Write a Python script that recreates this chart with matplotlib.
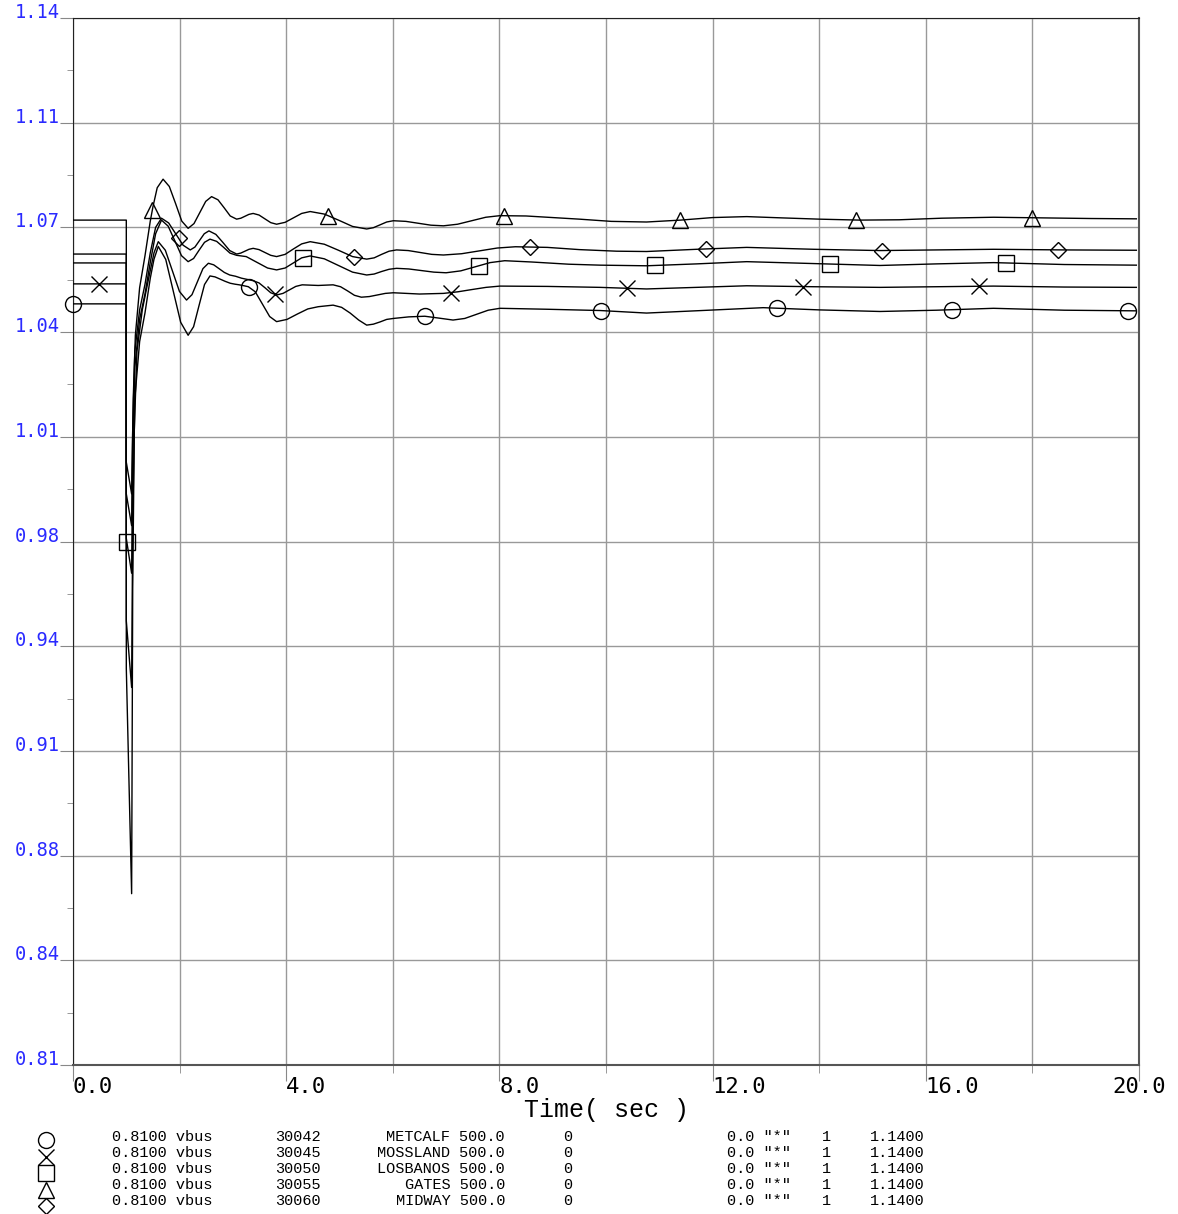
import numpy as np
import matplotlib
matplotlib.use("Agg")
import matplotlib.pyplot as plt

# ---- channel data ----
names = ['METCALF', 'MOSSLAND', 'LOSBANOS', 'GATES', 'MIDWAY']
bus_nums = ['30042', '30045', '30050', '30055', '30060']
markers = ['o', 'x', 's', '^', 'D']
marker_start = [0.0, 0.495, 1.01, 1.49, 1.98]
marker_step = 3.3

t_metcalf = [0, 1.0, 1.0, 1.1, 1.12, 1.16, 1.25, 1.35, 1.45, 1.52, 1.6, 1.74, 1.88, 2.02, 2.16,
             2.2625, 2.365, 2.4675, 2.57, 2.665, 2.76, 2.855, 2.95, 3.04, 3.12, 3.21, 3.29, 3.42,
             3.555, 3.69, 3.82, 4.015, 4.21, 4.405, 4.6, 4.88, 5.04, 5.2, 5.36, 5.51, 5.635, 5.76,
             5.885, 6.01, 6.3, 6.6, 6.87, 7.13, 7.35, 7.57, 7.79, 8.01, 8.9, 9.89, 10.76, 11.8,
             12.95, 14.0, 15.14, 16.2, 17.27, 18.6, 19.95]
v_metcalf = [1.0499, 1.0499, 0.95, 0.929, 0.98, 1.02, 1.038, 1.047, 1.058, 1.064, 1.068, 1.0639,
             1.054, 1.0441, 1.0400, 1.0427, 1.0494, 1.0560, 1.0587, 1.0584, 1.0577, 1.0570, 1.0564,
             1.0561, 1.0559, 1.0556, 1.0553, 1.0537, 1.0498, 1.0459, 1.0443, 1.0450, 1.0467,
             1.0483, 1.0490, 1.0495, 1.0488, 1.0470, 1.0448, 1.0432, 1.0435, 1.0442, 1.0450,
             1.0453, 1.0458, 1.0460, 1.0454, 1.0448, 1.0453, 1.0466, 1.0479, 1.0485, 1.0482,
             1.0478, 1.0470, 1.0478, 1.0487, 1.0480, 1.0475, 1.0479, 1.0485, 1.0479, 1.0477]

t_mossland = [0, 1.0, 1.0, 1.1, 1.12, 1.15, 1.2, 1.3, 1.42, 1.52, 1.6, 1.7325, 1.865, 1.9975, 2.13,
              2.2325, 2.335, 2.4375, 2.54, 2.64, 2.74, 2.84, 2.94, 3.05, 3.16, 3.27, 3.38, 3.49,
              3.6, 3.71, 3.82, 3.94, 4.06, 4.18, 4.3, 4.6, 4.88, 5.02, 5.15, 5.28, 5.41, 5.56,
              5.71, 5.86, 6.01, 6.5, 6.95, 7.22, 7.48, 7.75, 8.01, 8.9, 9.89, 10.76, 11.7, 12.64,
              13.9, 15.14, 16.2, 17.27, 18.6, 19.95]
v_mossland = [1.0562, 1.0562, 0.935, 0.864, 0.96, 1.01, 1.035, 1.048, 1.058, 1.066, 1.0695, 1.0668,
              1.0603, 1.0538, 1.0511, 1.0528, 1.0569, 1.0610, 1.0627, 1.0622, 1.0610, 1.0598,
              1.0590, 1.0586, 1.0580, 1.0576, 1.0572, 1.0565, 1.0550, 1.0534, 1.0527, 1.0532,
              1.0543, 1.0554, 1.0559, 1.0557, 1.0559, 1.0553, 1.0540, 1.0526, 1.0520, 1.0522,
              1.0527, 1.0532, 1.0534, 1.0530, 1.0532, 1.0537, 1.0544, 1.0551, 1.0555, 1.0554,
              1.0551, 1.0546, 1.0551, 1.0556, 1.0553, 1.0551, 1.0553, 1.0555, 1.0552, 1.0551]

t_losbanos = [0, 1.0, 1.0, 1.1, 1.12, 1.16, 1.25, 1.35, 1.45, 1.55, 1.66, 1.785, 1.91, 2.035, 2.16,
              2.2625, 2.365, 2.4675, 2.57, 2.695, 2.82, 2.945, 3.07, 3.25, 3.45, 3.65, 3.82, 3.98,
              4.135, 4.29, 4.45, 4.715, 4.98, 5.245, 5.51, 5.65, 5.79, 5.93, 6.07, 6.3, 6.535,
              6.77, 7.0, 7.275, 7.55, 7.825, 8.1, 8.6, 9.3, 9.89, 10.76, 11.7, 12.64, 13.9, 15.14,
              16.2, 17.27, 18.6, 19.95]
v_losbanos = [1.0628, 1.0628, 0.976, 0.965, 1.0, 1.03, 1.045, 1.053, 1.063, 1.072, 1.0763, 1.0744,
              1.0698, 1.0651, 1.0632, 1.0642, 1.0668, 1.0693, 1.0703, 1.0696, 1.0678, 1.0659,
              1.0652, 1.0648, 1.0630, 1.0612, 1.0606, 1.0612, 1.0628, 1.0644, 1.0650, 1.0641,
              1.0620, 1.0599, 1.0590, 1.0593, 1.0601, 1.0608, 1.0611, 1.0609, 1.0604, 1.0599,
              1.0597, 1.0603, 1.0616, 1.0629, 1.0635, 1.0631, 1.0624, 1.0621, 1.0619, 1.0625,
              1.0632, 1.0626, 1.0620, 1.0625, 1.0629, 1.0623, 1.0621]

t_gates = [0, 1.0, 1.0, 1.1, 1.13, 1.17, 1.25, 1.35, 1.45, 1.5, 1.58, 1.69, 1.807, 1.925, 2.04,
           2.16, 2.27, 2.38, 2.49, 2.6, 2.72, 2.835, 2.95, 3.07, 3.15, 3.225, 3.3, 3.38, 3.49, 3.6,
           3.71, 3.82, 3.98, 4.135, 4.29, 4.45, 4.715, 4.98, 5.245, 5.51, 5.635, 5.76, 5.885,
           6.01, 6.245, 6.48, 6.715, 6.95, 7.215, 7.48, 7.745, 8.01, 8.5, 9.0, 9.5, 10.1, 10.76,
           11.4, 12.0, 12.64, 13.3, 14.0, 14.76, 15.5, 16.3, 17.27, 18.2, 19.1, 19.95]
v_gates = [1.0763, 1.0763, 1.0, 0.99, 1.02, 1.04, 1.055, 1.065, 1.076, 1.0805, 1.0865, 1.0892,
           1.0869, 1.0815, 1.0760, 1.0737, 1.0752, 1.0787, 1.0822, 1.0837, 1.0827, 1.0802, 1.0776,
           1.0766, 1.0769, 1.0775, 1.0781, 1.0784, 1.0779, 1.0767, 1.0755, 1.0750, 1.0756, 1.0770,
           1.0784, 1.0790, 1.0782, 1.0763, 1.0743, 1.0735, 1.0739, 1.0748, 1.0757, 1.0761,
           1.0759, 1.0753, 1.0747, 1.0745, 1.0750, 1.0761, 1.0772, 1.0777, 1.0776, 1.0771,
           1.0766, 1.0759, 1.0757, 1.0763, 1.0771, 1.0774, 1.0770, 1.0766, 1.0763, 1.0764,
           1.0769, 1.0772, 1.0770, 1.0768, 1.0767]

t_midway = [0, 1.0, 1.0, 1.1, 1.12, 1.16, 1.25, 1.35, 1.45, 1.55, 1.66, 1.795, 1.93, 2.065, 2.2,
            2.2875, 2.375, 2.4625, 2.55, 2.68, 2.81, 2.94, 3.07, 3.1475, 3.225, 3.3025, 3.38,
            3.49, 3.6, 3.71, 3.82, 3.98, 4.135, 4.29, 4.45, 4.715, 4.98, 5.245, 5.51, 5.65,
            5.79, 5.93, 6.07, 6.29, 6.51, 6.73, 6.95, 7.29, 7.625, 7.96, 8.3, 8.9, 9.5, 10.2,
            10.76, 11.7, 12.64, 13.9, 15.14, 16.2, 17.27, 18.6, 19.95]
v_midway = [1.0656, 1.0656, 0.99, 0.98, 1.01, 1.035, 1.048, 1.056, 1.066, 1.074, 1.0769, 1.0754,
            1.0719, 1.0684, 1.0669, 1.0678, 1.0699, 1.0720, 1.0729, 1.0718, 1.0693, 1.0667,
            1.0656, 1.0659, 1.0665, 1.0671, 1.0674, 1.0670, 1.0661, 1.0652, 1.0648, 1.0655,
            1.0672, 1.0688, 1.0695, 1.0687, 1.0668, 1.0648, 1.0640, 1.0644, 1.0655, 1.0665,
            1.0669, 1.0667, 1.0661, 1.0655, 1.0653, 1.0657, 1.0666, 1.0675, 1.0679, 1.0677,
            1.0670, 1.0665, 1.0664, 1.0671, 1.0677, 1.0671, 1.0667, 1.0669, 1.0671, 1.0669,
            1.0668]

times = [t_metcalf, t_mossland, t_losbanos, t_gates, t_midway]
values = [v_metcalf, v_mossland, v_losbanos, v_gates, v_midway]

ytick_labels = ['0.81', '0.84', '0.88', '0.91', '0.94', '0.98', '1.01', '1.04', '1.07', '1.11', '1.14']
xtick_labels = ['0.0', '4.0', '8.0', '12.0', '16.0', '20.0']

W, H = 1178, 1214
fig = plt.figure(figsize=(W / 100, H / 100), dpi=100)
ax = fig.add_axes([73 / W, 1 - 1065 / H, (1139 - 73) / W, (1065 - 18) / H])

for t, v, m, st in zip(times, values, markers, marker_start):
    t = np.array(t)
    v = np.array(v)
    ax.plot(t, v, color='black', lw=1.0, zorder=3)
    mt = np.arange(st, 20.0, marker_step)
    ms = 8 if m == 'D' else 11.5
    ax.plot(mt, np.interp(mt, t, v), linestyle='none', marker=m, ms=ms, mfc='none',
            mec='black', mew=1.0, clip_on=False, zorder=4)

ax.set_xlim(0, 20)
ax.set_ylim(0.81, 1.14)

yt = np.linspace(0.81, 1.14, len(ytick_labels))
ax.set_yticks(yt)
ax.set_yticklabels(ytick_labels, family='DejaVu Sans Mono', fontsize=13.5, color='#2a2aff')
ax.set_yticks(np.linspace(0.81, 1.14, 21), minor=True)
for lbl in ax.get_yticklabels():
    lbl.set_verticalalignment('baseline')

ax.set_xticks(np.arange(0, 21, 4))
ax.set_xticklabels(xtick_labels, family='DejaVu Sans Mono', fontsize=16)
ax.set_xticks(np.arange(2, 20, 4), minor=True)
for lbl in ax.get_xticklabels():
    lbl.set_horizontalalignment('left')
ax.get_xticklabels()[-1].set_horizontalalignment('center')

ax.tick_params(axis='y', which='major', direction='out', length=9.5, color='#888888', pad=0)
ax.tick_params(axis='y', which='minor', direction='out', length=4.5, color='#888888')
ax.tick_params(axis='x', which='major', direction='out', length=11.5, color='#888888', pad=-3)
ax.tick_params(axis='x', which='minor', direction='out', length=6, color='#888888')

ax.grid(True, which='major', color='#999999', lw=1.0, zorder=1)
ax.grid(True, which='minor', axis='x', color='#999999', lw=1.0, zorder=1)
for side in ['left', 'top']:
    ax.spines[side].set_color('#222222')
for side in ['right', 'bottom']:
    ax.spines[side].set_color('#555555')
    ax.spines[side].set_linewidth(1.5)

fig.text(606 / W, 1 - 1110 / H, 'Time( sec )', family='Liberation Mono', fontsize=18,
         ha='center', va='center')

# ---- channel legend ----
row_y = [1137 + 16 * i for i in range(len(names))]
for i in range(len(names)):
    y = 1 - row_y[i] / H
    kw = dict(family='Liberation Mono', fontsize=11, va='center')
    fig.text(112 / W, y, '0.8100 vbus', **kw)
    fig.text(275 / W, y, bus_nums[i], **kw)
    fig.text(505 / W, y, names[i] + ' 500.0', ha='right', **kw)
    fig.text(563 / W, y, '0', **kw)
    fig.text(727 / W, y, '0.0 "*"', **kw)
    fig.text(822 / W, y, '1', **kw)
    fig.text(870 / W, y, '1.1400', **kw)

lax = fig.add_axes([30 / W, -0.25 / H, 32 / W, 82.5 / H])
lax.set_xlim(-1, 1)
lax.set_ylim(4.5, -0.5)
lax.axis('off')
for i, m in enumerate(markers):
    ms = 8 if m == 'D' else 11.5
    lax.plot([0], [i], marker=m, ms=ms, mfc='none', mec='black', mew=1.0,
             linestyle='none', clip_on=False)

fig.savefig('out.png', dpi=100)
